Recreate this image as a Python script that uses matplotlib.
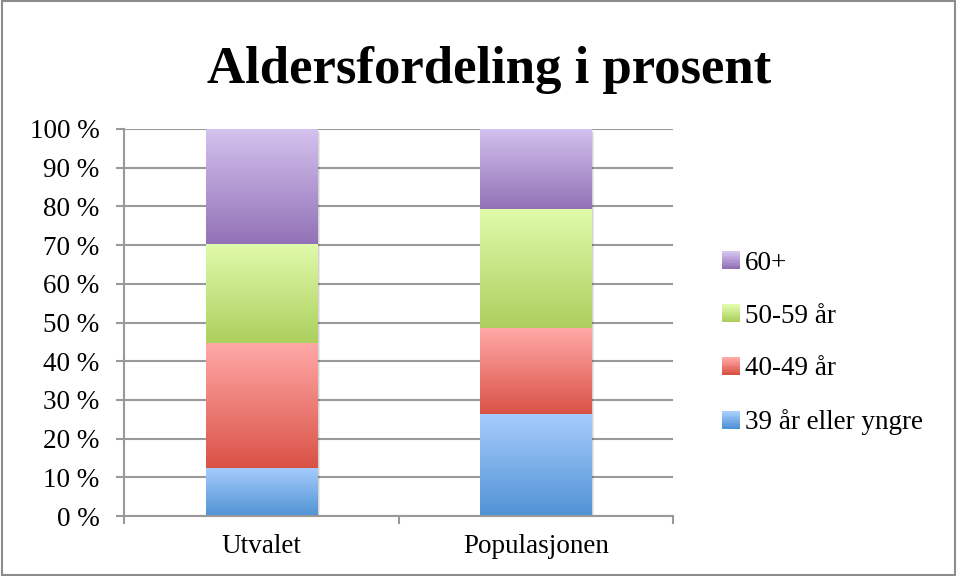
import numpy as np
import matplotlib
matplotlib.use("Agg")
import matplotlib.pyplot as plt
import matplotlib.transforms as mtransforms
from matplotlib.colors import LinearSegmentedColormap
from matplotlib.patches import Rectangle
from matplotlib.legend_handler import HandlerBase

categories = ["Utvalet", "Populasjonen"]
series_names = ["39 år eller yngre", "40-49 år", "50-59 år", "60+"]
v_young = [12.5, 26.4]
v_40 = [32.2, 22.2]
v_50 = [25.6, 30.7]
v_60 = [29.7, 20.7]
yticks = list(range(0, 101, 10))
ytick_labels = [f"{t} %" for t in yticks]
title = "Aldersfordeling i prosent"

# gradient (top colour, bottom colour)
grads = [("#A8CDFD", "#5093D5"),
         ("#FFA9A7", "#DA5246"),
         ("#E1FBAB", "#ACCF5E"),
         ("#D4C2EF", "#9272B6")]

FS = 19.5
plt.rcParams['font.family'] = ['Liberation Serif', 'DejaVu Serif']
fig = plt.figure(figsize=(9.57, 5.76), dpi=100)
ax = fig.add_axes([124/957, 1-516/576, (673-124)/957, (516-129)/576])

x = np.arange(len(categories))
series = [v_young, v_40, v_50, v_60]
bottom = np.zeros(len(categories))
for vals, (ctop, cbot) in zip(series, grads):
    bars = ax.bar(x, vals, width=0.405, bottom=bottom, color='none', edgecolor='none', zorder=3)
    cmap = LinearSegmentedColormap.from_list("g", [cbot, ctop])
    grad = np.linspace(0, 1, 256).reshape(-1, 1)
    for b in bars:
        x0, y0 = b.get_x(), b.get_y()
        ax.imshow(grad, cmap=cmap, origin='lower', aspect='auto',
                  extent=[x0, x0 + b.get_width(), y0, y0 + b.get_height()],
                  zorder=3, interpolation='bilinear')
    bottom += np.array(vals)

# soft shadow behind the stacked bars (offset a couple of pixels)
for k, a in [(2.2, 0.08), (1.2, 0.10)]:
    off = mtransforms.offset_copy(ax.transData, fig=fig, x=k, y=-k, units='points')
    ax.bar(x, bottom, width=0.405, color='black', alpha=a, edgecolor='none',
           zorder=2.5, transform=off)

ax.set_xlim(-0.5, 1.5)
ax.set_ylim(0, 100)
ax.set_yticks(yticks)
ax.set_yticklabels(ytick_labels, fontsize=FS)
ax.set_xticks(x)
ax.set_xticklabels(categories, fontsize=FS)
ax.tick_params(axis='x', length=0, pad=13)
ax.tick_params(axis='y', length=5.8, width=1.5, color='#999999', pad=12)
ax.set_xticks([-0.5, 0.5, 1.5], minor=True)
ax.tick_params(axis='x', which='minor', length=5.8, width=1.5, color='#999999', direction='out')
ax.yaxis.grid(True, color='#999999', linewidth=1.5, zorder=0)
ax.set_axisbelow(True)
for s in ['top', 'right']:
    ax.spines[s].set_visible(False)
for s in ['left', 'bottom']:
    ax.spines[s].set_color('#999999')
    ax.spines[s].set_linewidth(1.5)
ax.spines['bottom'].set_zorder(4)

fig.text(489/957, 1-83.5/576, title, ha='center', va='baseline', fontsize=38, fontweight='bold')

class GradHandler(HandlerBase):
    def __init__(self, ctop, cbot):
        super().__init__()
        self.ctop, self.cbot = ctop, cbot
    def create_artists(self, legend, orig_handle, xdescent, ydescent, width, height, fontsize, trans):
        cmap = LinearSegmentedColormap.from_list("g", [self.cbot, self.ctop])
        n = 12
        arts = []
        s = width
        x0 = -xdescent
        y0 = -ydescent + (height - s) / 2
        for i in range(n):
            r = Rectangle((x0, y0 + s * i / n), s, s / n + 0.3, facecolor=cmap(i / (n - 1)),
                          edgecolor='none', transform=trans)
            arts.append(r)
        return arts

handles = [Rectangle((0, 0), 1, 1) for _ in series_names]
hmap = {h: GradHandler(*g) for h, g in zip(handles, grads)}
leg = fig.legend(handles[::-1], series_names[::-1], handler_map=hmap,
                 loc='center left', bbox_to_anchor=(698/957, 1-343/576), frameon=False,
                 fontsize=FS, labelspacing=1.03, handlelength=0.64, handletextpad=0.2)

fig.patches.append(Rectangle((0.002, 0.002), 0.996, 0.996, transform=fig.transFigure,
                             fill=False, edgecolor='#8c8c8c', linewidth=1.5))

fig.savefig("out.png", dpi=100)
